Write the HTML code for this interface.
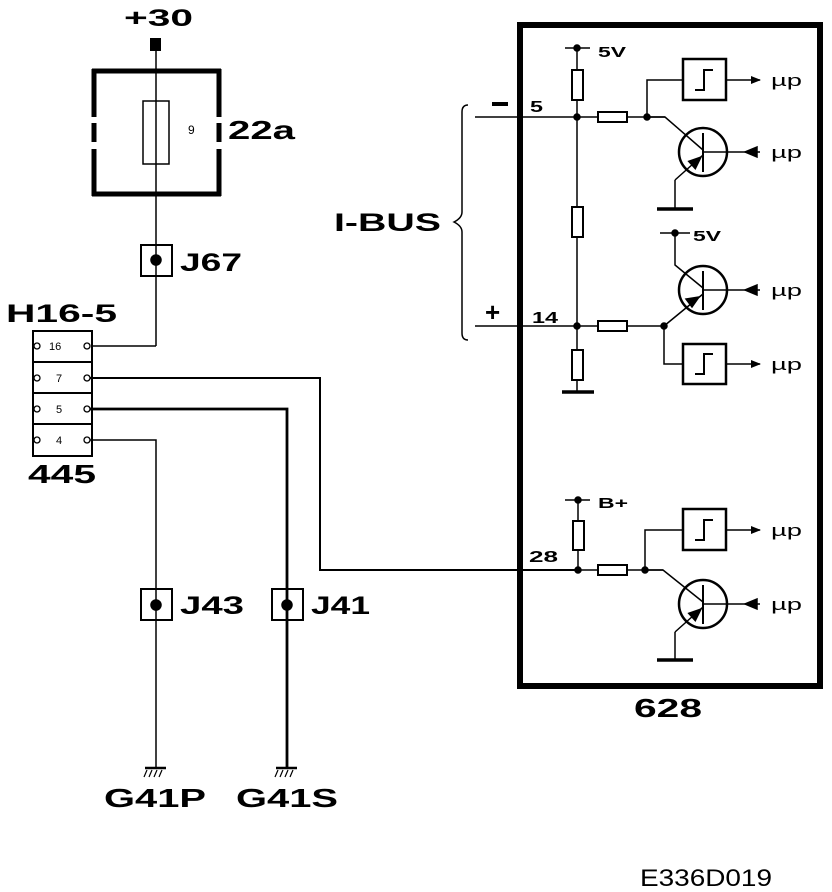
<!DOCTYPE html>
<html><head><meta charset="utf-8"><style>
html,body{margin:0;padding:0;background:#fff;}
svg{display:block;}
text{font-family:"Liberation Sans",sans-serif;fill:#000;}
.b{font-weight:bold;}
.n{font-weight:normal;}
</style></head><body>
<svg width="832" height="892" viewBox="0 0 832 892" xmlns="http://www.w3.org/2000/svg">
<defs>
<marker id="ar" markerWidth="10" markerHeight="8" refX="9" refY="4" orient="auto" markerUnits="userSpaceOnUse">
<path d="M0,0 L10,4 L0,8 Z" fill="#000"/></marker>
</defs>
<g stroke="#000" fill="none" stroke-width="1.5">
<rect x="150" y="38" width="11" height="13" fill="#000" stroke="none"/>
<line x1="156" y1="45" x2="156" y2="346"/>
<g stroke-width="5">
<line x1="92" y1="71" x2="221" y2="71"/>
<line x1="92" y1="194" x2="221" y2="194"/>
<line x1="94" y1="69" x2="94" y2="117"/><line x1="94" y1="123" x2="94" y2="142"/><line x1="94" y1="149" x2="94" y2="196"/>
<line x1="219" y1="69" x2="219" y2="117"/><line x1="219" y1="123" x2="219" y2="142"/><line x1="219" y1="149" x2="219" y2="196"/>
</g>
<rect x="143" y="101" width="26" height="63" fill="#fff"/>
<line x1="156" y1="101" x2="156" y2="164"/>
<rect x="141" y="245" width="31" height="31" stroke-width="2"/>
<circle cx="156" cy="260" r="5" fill="#000"/>
<line x1="156" y1="346" x2="92" y2="346"/>
<rect x="33" y="331" width="59" height="125" stroke-width="2"/>
<line x1="33" y1="362" x2="92" y2="362" stroke-width="2"/>
<line x1="33" y1="393" x2="92" y2="393" stroke-width="2"/>
<line x1="33" y1="424" x2="92" y2="424" stroke-width="2"/>
<g stroke-width="1.3" fill="#fff">
<circle cx="37" cy="346" r="3"/><circle cx="87" cy="346" r="3"/>
<circle cx="37" cy="378" r="3"/><circle cx="87" cy="378" r="3"/>
<circle cx="37" cy="409" r="3"/><circle cx="87" cy="409" r="3"/>
<circle cx="37" cy="440" r="3"/><circle cx="87" cy="440" r="3"/>
</g>
<polyline points="90,378 320,378 320,570 580,570" stroke-width="2"/>
<polyline points="90,409 287,409 287,768" stroke-width="2.8"/>
<polyline points="90,440 156,440 156,768"/>
<rect x="141" y="589" width="31" height="31" stroke-width="2"/>
<circle cx="156" cy="605" r="5" fill="#000"/>
<rect x="272" y="589" width="31" height="31" stroke-width="2"/>
<circle cx="287" cy="605" r="5" fill="#000"/>
<line x1="145" y1="768" x2="166" y2="768" stroke-width="2.5"/>
<path d="M147,770 l-3,7 M152,770 l-3,7 M157,770 l-3,7 M162,770 l-3,7" stroke-width="1.2"/>
<line x1="276" y1="768" x2="297" y2="768" stroke-width="2.5"/>
<path d="M278,770 l-3,7 M283,770 l-3,7 M288,770 l-3,7 M293,770 l-3,7" stroke-width="1.2"/>
<rect x="520" y="25" width="300" height="661" stroke-width="6"/>
<path d="M468,105 Q462,105 462,112 L462,212 Q462,218 454,222 Q462,226 462,232 L462,333 Q462,340 468,340" stroke-width="1.5"/>
<line x1="475" y1="117" x2="665" y2="117"/>
<line x1="475" y1="326" x2="665" y2="326"/>
<line x1="565" y1="48" x2="590" y2="48"/>
<circle cx="577" cy="48" r="3" fill="#000"/>
<line x1="577" y1="48" x2="577" y2="392"/>
<g fill="#fff" stroke-width="2">
<rect x="572" y="70" width="11" height="30"/>
<rect x="572" y="207" width="11" height="30"/>
<rect x="572" y="350" width="11" height="30"/>
<rect x="598" y="112" width="29" height="10"/>
<rect x="598" y="321" width="29" height="10"/>
</g>
<line x1="562" y1="392" x2="594" y2="392" stroke-width="3.5"/>
<circle cx="577" cy="117" r="3" fill="#000"/>
<circle cx="577" cy="326" r="3" fill="#000"/>
<circle cx="647" cy="117" r="3" fill="#000"/>
<circle cx="664" cy="326" r="3" fill="#000"/>
<polyline points="647,117 647,80 683,80"/>
<rect x="683" y="59" width="43" height="41" stroke-width="2.5"/>
<polyline points="695,90 704,90 704,70 713,70" stroke-width="2"/>
<line x1="726" y1="80" x2="760" y2="80" marker-end="url(#ar)"/>
<circle cx="703" cy="152" r="24" stroke-width="2.5"/>
<line x1="703" y1="133" x2="703" y2="172" stroke-width="2"/>
<polyline points="647,117 665,117 703,150"/>
<line x1="703" y1="155" x2="675" y2="180"/>
<path d="M701,157 L695.3,168.7 L688.7,161.3 Z" fill="#000"/>
<polyline points="675,180 675,209"/>
<line x1="657" y1="209" x2="693" y2="209" stroke-width="3.5"/>
<line x1="760" y1="152" x2="703" y2="152"/>
<path d="M745,152 L757,147 L757,157 Z" fill="#000"/>
<line x1="660" y1="233" x2="690" y2="233"/>
<circle cx="675" cy="233" r="3" fill="#000"/>
<circle cx="703" cy="290" r="24" stroke-width="2.5"/>
<line x1="703" y1="271" x2="703" y2="310" stroke-width="2"/>
<polyline points="675,233 675,265 703,288"/>
<line x1="664" y1="326" x2="703" y2="294"/>
<path d="M699,297 L686,299 L692,307 Z" fill="#000"/>
<line x1="760" y1="290" x2="703" y2="290"/>
<path d="M745,290 L757,285 L757,295 Z" fill="#000"/>
<polyline points="664,326 664,364 683,364"/>
<rect x="683" y="344" width="43" height="40" stroke-width="2.5"/>
<polyline points="695,374 704,374 704,354 713,354" stroke-width="2"/>
<line x1="726" y1="364" x2="760" y2="364" marker-end="url(#ar)"/>
<line x1="565" y1="500" x2="590" y2="500"/>
<circle cx="578" cy="500" r="3" fill="#000"/>
<line x1="578" y1="500" x2="578" y2="570"/>
<line x1="578" y1="570" x2="663" y2="570"/>
<rect x="573" y="521" width="11" height="29" fill="#fff" stroke-width="2"/>
<rect x="598" y="565" width="29" height="10" fill="#fff" stroke-width="2"/>
<circle cx="578" cy="570" r="3" fill="#000"/>
<circle cx="645" cy="570" r="3" fill="#000"/>
<polyline points="645,570 645,530 683,530"/>
<rect x="683" y="509" width="43" height="41" stroke-width="2.5"/>
<polyline points="695,540 704,540 704,520 713,520" stroke-width="2"/>
<line x1="726" y1="530" x2="760" y2="530" marker-end="url(#ar)"/>
<circle cx="703" cy="604" r="24" stroke-width="2.5"/>
<line x1="703" y1="585" x2="703" y2="624" stroke-width="2"/>
<polyline points="645,570 663,570 703,602"/>
<line x1="703" y1="607" x2="675" y2="632"/>
<path d="M701,609 L695.3,620.7 L688.7,613.3 Z" fill="#000"/>
<polyline points="675,632 675,660"/>
<line x1="657" y1="660" x2="693" y2="660" stroke-width="3.5"/>
<line x1="760" y1="604" x2="703" y2="604"/>
<path d="M745,604 L757,599 L757,609 Z" fill="#000"/>
<line x1="492" y1="104" x2="508" y2="104" stroke-width="4"/>
</g>
<g class="b">
<text x="124" y="26" font-size="24" textLength="69" lengthAdjust="spacingAndGlyphs">+30</text>
<text x="228" y="139" font-size="26" textLength="67" lengthAdjust="spacingAndGlyphs">22a</text>
<text x="180" y="271" font-size="25" textLength="62" lengthAdjust="spacingAndGlyphs">J67</text>
<text x="6" y="322" font-size="25" textLength="111" lengthAdjust="spacingAndGlyphs">H16-5</text>
<text x="28" y="483" font-size="26" textLength="68" lengthAdjust="spacingAndGlyphs">445</text>
<text x="180" y="614" font-size="25" textLength="64" lengthAdjust="spacingAndGlyphs">J43</text>
<text x="311" y="614" font-size="25" textLength="59" lengthAdjust="spacingAndGlyphs">J41</text>
<text x="104" y="807" font-size="26" textLength="102" lengthAdjust="spacingAndGlyphs">G41P</text>
<text x="236" y="807" font-size="26" textLength="102" lengthAdjust="spacingAndGlyphs">G41S</text>
<text x="334" y="231" font-size="25" textLength="107" lengthAdjust="spacingAndGlyphs">I-BUS</text>
<text x="530" y="112" font-size="16" textLength="13" lengthAdjust="spacingAndGlyphs">5</text>
<text x="485" y="321" font-size="26">+</text>
<text x="532" y="323" font-size="16" textLength="26" lengthAdjust="spacingAndGlyphs">14</text>
<text x="598" y="57" font-size="15" textLength="28" lengthAdjust="spacingAndGlyphs">5V</text>
<text x="693" y="241" font-size="15" textLength="28" lengthAdjust="spacingAndGlyphs">5V</text>
<text x="598" y="508" font-size="15" textLength="30" lengthAdjust="spacingAndGlyphs">B+</text>
<text x="529" y="562" font-size="16" textLength="29" lengthAdjust="spacingAndGlyphs">28</text>
<text x="634" y="717" font-size="26" textLength="68" lengthAdjust="spacingAndGlyphs">628</text>
</g>
<g class="n">
<text x="188" y="134" font-size="12">9</text>
<text x="49" y="350" font-size="11">16</text>
<text x="56" y="382" font-size="11">7</text>
<text x="56" y="413" font-size="11">5</text>
<text x="56" y="444" font-size="11">4</text>
<g font-size="17">
<text x="771" y="86" textLength="31" lengthAdjust="spacingAndGlyphs">µp</text>
<text x="771" y="158" textLength="31" lengthAdjust="spacingAndGlyphs">µp</text>
<text x="771" y="296" textLength="31" lengthAdjust="spacingAndGlyphs">µp</text>
<text x="771" y="370" textLength="31" lengthAdjust="spacingAndGlyphs">µp</text>
<text x="771" y="536" textLength="31" lengthAdjust="spacingAndGlyphs">µp</text>
<text x="771" y="610" textLength="31" lengthAdjust="spacingAndGlyphs">µp</text>
</g>
<text x="640" y="886" font-size="24" textLength="132" lengthAdjust="spacingAndGlyphs">E336D019</text>
</g>
</svg>
</body></html>
